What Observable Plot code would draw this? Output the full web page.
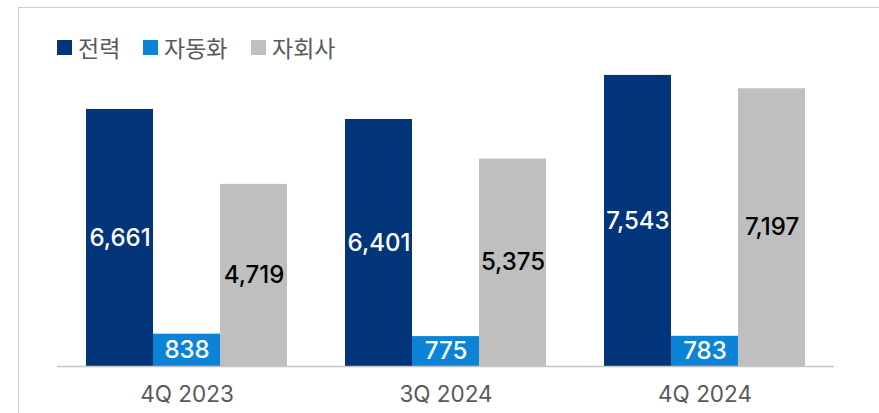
<!DOCTYPE html>
<html>
<head>
<meta charset="utf-8">
<script src="https://cdn.jsdelivr.net/npm/d3@7"></script>
<script src="https://cdn.jsdelivr.net/npm/@observablehq/plot@0.6"></script>
<style>
  html, body { margin: 0; padding: 0; background: #fff; }
  #wrap { position: relative; width: 879px; height: 413px; overflow: hidden; }
  #frame { position: absolute; left: 18px; top: 7px; width: 870px; height: 420px;
           border-top: 1px solid #d0d0d0; border-left: 1px solid #d0d0d0; pointer-events: none; }
  #legend { position: relative; height: 62px; font-family: "Noto Sans CJK KR", sans-serif; font-size: 23px; color: #595959; }
  .item { position: absolute; top: 33px; height: 28px; display: flex; align-items: center; }
  .sw { width: 15px; height: 15px; margin-right: 6px; }
  #chart svg { display: block; }
</style>
</head>
<body>
<div id="wrap">
  <div id="frame"></div>
  <div id="legend"></div>
  <div id="chart"></div>
</div>
<script>
const categories = ["4Q 2023", "3Q 2024", "4Q 2024"];
const seriesNames = ["전력", "자동화", "자회사"];
const seriesColors = ["#02357A", "#0B84D8", "#BFBFBF"];
const labelColors = ["#ffffff", "#ffffff", "#000000"];
const power = [6661, 6401, 7543];
const automation = [838, 775, 783];
const subsidiary = [4719, 5375, 7197];

const seriesValues = [power, automation, subsidiary];
const data = [];
categories.forEach((c, i) => {
  seriesNames.forEach((s, j) => {
    data.push({category: c, series: s, value: seriesValues[j][i]});
  });
});

// legend
const legend = document.getElementById("legend");
const legendX = [57, 143, 251];
seriesNames.forEach((s, j) => {
  const it = document.createElement("div");
  it.className = "item";
  it.style.left = legendX[j] + "px";
  it.innerHTML = `<span class="sw" style="background:${seriesColors[j]}"></span><span>${s}</span>`;
  legend.appendChild(it);
});

const fmt = d3.format(",");
const chart = Plot.plot({
  width: 879,
  height: 351,
  marginLeft: 56,
  marginRight: 44.5,
  marginTop: 3,
  marginBottom: 47,
  style: {fontFamily: "Inter, 'Liberation Sans', sans-serif", background: "transparent"},
  fx: {domain: categories, padding: 0, label: null, axis: "bottom", tickSize: 0, tickPadding: 20},
  x: {domain: seriesNames, paddingInner: 0, paddingOuter: 0.42, axis: null},
  y: {domain: [0, 7800], axis: null},
  color: {domain: seriesNames, range: seriesColors},
  marks: [
    Plot.barY(data, {fx: "category", x: "series", y: "value", fill: "series"}),
    Plot.ruleY([0], {stroke: "#c4c4c4", strokeWidth: 1.5}),
    Plot.text(data, {
      fx: "category", x: "series", y: d => d.value / 2,
      text: d => fmt(d.value),
      fill: d => labelColors[seriesNames.indexOf(d.series)],
      fontSize: 24,
      fontWeight: 500
    })
  ]
});
document.getElementById("chart").appendChild(chart);
const axisG = chart.querySelector("g[aria-label='fx-axis tick label']");
if (axisG) { axisG.setAttribute("font-size", "22.5"); axisG.setAttribute("fill", "#595959"); }
</script>
</body>
</html>
